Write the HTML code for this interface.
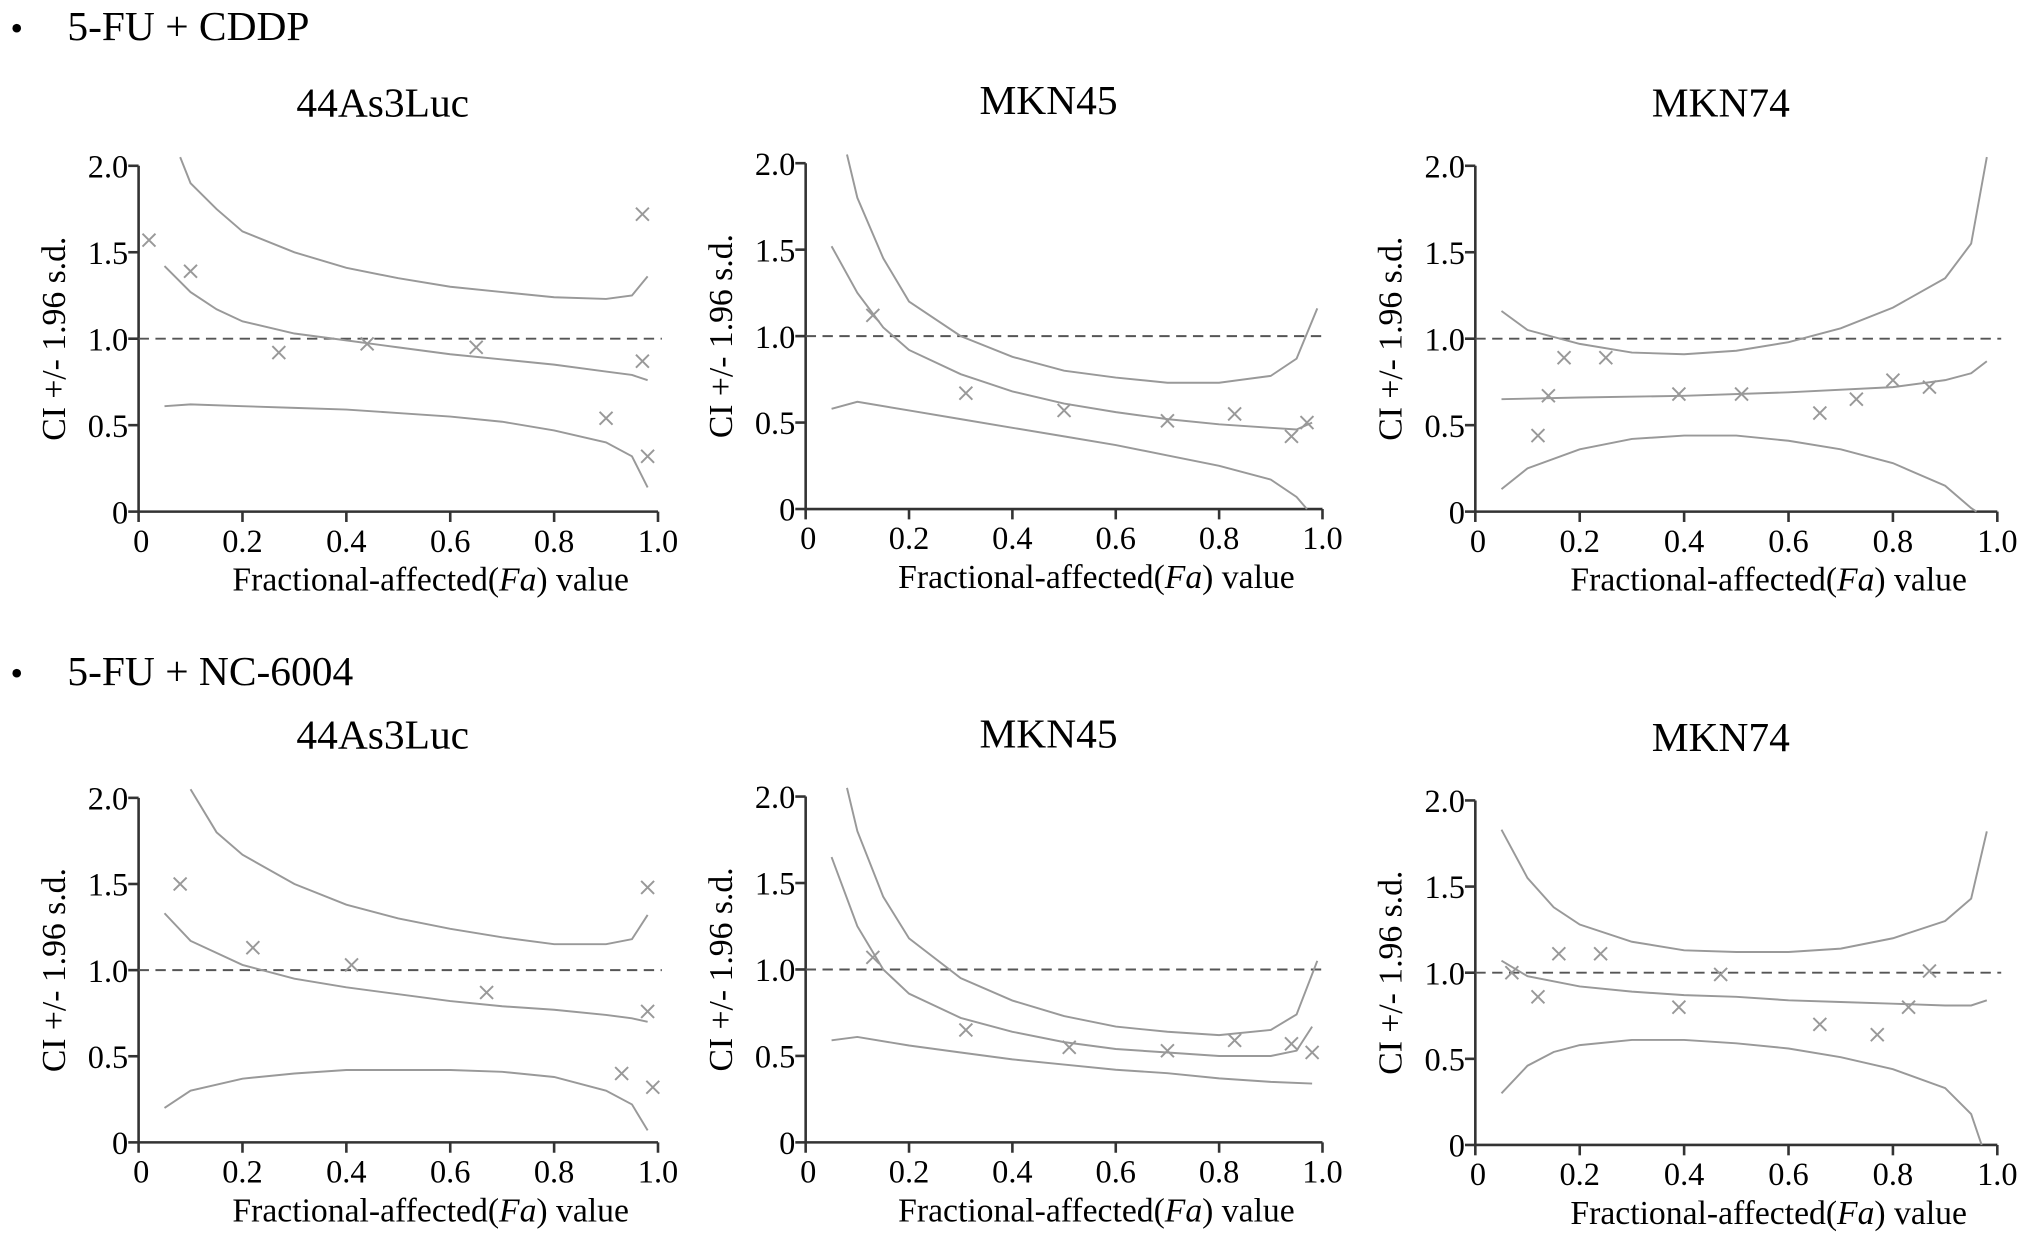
<!DOCTYPE html>
<html><head><meta charset="utf-8"><style>
html,body{margin:0;padding:0;background:#fff;}
svg{display:block;font-family:"Liberation Serif",serif;}
</style></head><body>
<svg id="fig" width="2031" height="1246" viewBox="0 0 1568 962" preserveAspectRatio="none">
<text x="8" y="31" font-size="28">•</text>
<text x="52" y="31" font-size="32">5-FU + CDDP</text>
<text x="8" y="529" font-size="28">•</text>
<text x="52" y="529" font-size="32">5-FU + NC-6004</text>
</svg>
<script>
const xTicks=[0,0.2,0.4,0.6,0.8,1.0];
const xTickLabels=["0","0.2","0.4","0.6","0.8","1.0"];
const yTicks=[0,0.5,1.0,1.5,2.0];
const yTickLabels=["0","0.5","1.0","1.5","2.0"];
const panelTitles=["44As3Luc","MKN45","MKN74","44As3Luc","MKN45","MKN74"];
// upper CI, mid CI, lower CI curves: [fa, ci]
const upper1=[[0.08,2.05],[0.1,1.9],[0.15,1.75],[0.2,1.62],[0.3,1.5],[0.4,1.41],[0.5,1.35],[0.6,1.3],[0.7,1.27],[0.8,1.24],[0.9,1.23],[0.95,1.25],[0.98,1.36]];
const mid1=[[0.05,1.42],[0.1,1.27],[0.15,1.17],[0.2,1.1],[0.3,1.03],[0.4,0.99],[0.5,0.95],[0.6,0.91],[0.7,0.88],[0.8,0.85],[0.9,0.81],[0.95,0.79],[0.98,0.76]];
const lower1=[[0.05,0.61],[0.1,0.62],[0.2,0.61],[0.3,0.6],[0.4,0.59],[0.5,0.57],[0.6,0.55],[0.7,0.52],[0.8,0.47],[0.9,0.4],[0.95,0.32],[0.98,0.14]];
const points1=[[0.02,1.57],[0.1,1.39],[0.27,0.92],[0.44,0.97],[0.65,0.95],[0.9,0.54],[0.97,1.72],[0.97,0.87],[0.98,0.32]];
const upper2=[[0.08,2.05],[0.1,1.8],[0.15,1.45],[0.2,1.2],[0.3,1.0],[0.4,0.88],[0.5,0.8],[0.6,0.76],[0.7,0.73],[0.8,0.73],[0.9,0.77],[0.95,0.87],[0.99,1.16]];
const mid2=[[0.05,1.52],[0.1,1.25],[0.15,1.05],[0.2,0.92],[0.3,0.78],[0.4,0.68],[0.5,0.61],[0.6,0.56],[0.7,0.52],[0.8,0.49],[0.9,0.47],[0.95,0.46],[0.98,0.5]];
const lower2=[[0.05,0.58],[0.1,0.62],[0.2,0.57],[0.3,0.52],[0.4,0.47],[0.5,0.42],[0.6,0.37],[0.7,0.31],[0.8,0.25],[0.9,0.17],[0.95,0.07],[0.97,0.0]];
const points2=[[0.13,1.12],[0.31,0.67],[0.5,0.57],[0.7,0.51],[0.83,0.55],[0.94,0.42],[0.97,0.5]];
const upper3=[[0.05,1.16],[0.1,1.05],[0.2,0.97],[0.3,0.92],[0.4,0.91],[0.5,0.93],[0.6,0.98],[0.7,1.06],[0.8,1.18],[0.9,1.35],[0.95,1.55],[0.98,2.05]];
const mid3=[[0.05,0.65],[0.2,0.66],[0.4,0.67],[0.6,0.69],[0.8,0.72],[0.9,0.76],[0.95,0.8],[0.98,0.87]];
const lower3=[[0.05,0.13],[0.1,0.25],[0.2,0.36],[0.3,0.42],[0.4,0.44],[0.5,0.44],[0.6,0.41],[0.7,0.36],[0.8,0.28],[0.9,0.15],[0.95,0.02],[0.96,0.0]];
const points3=[[0.12,0.44],[0.14,0.67],[0.17,0.89],[0.25,0.89],[0.39,0.68],[0.51,0.68],[0.66,0.57],[0.73,0.65],[0.8,0.76],[0.87,0.72]];
const upper4=[[0.1,2.05],[0.15,1.8],[0.2,1.67],[0.3,1.5],[0.4,1.38],[0.5,1.3],[0.6,1.24],[0.7,1.19],[0.8,1.15],[0.9,1.15],[0.95,1.18],[0.98,1.32]];
const mid4=[[0.05,1.33],[0.1,1.17],[0.2,1.03],[0.3,0.95],[0.4,0.9],[0.5,0.86],[0.6,0.82],[0.7,0.79],[0.8,0.77],[0.9,0.74],[0.95,0.72],[0.98,0.7]];
const lower4=[[0.05,0.2],[0.1,0.3],[0.2,0.37],[0.3,0.4],[0.4,0.42],[0.5,0.42],[0.6,0.42],[0.7,0.41],[0.8,0.38],[0.9,0.3],[0.95,0.22],[0.98,0.07]];
const points4=[[0.08,1.5],[0.22,1.13],[0.41,1.03],[0.67,0.87],[0.93,0.4],[0.98,1.48],[0.98,0.76],[0.99,0.32]];
const upper5=[[0.08,2.05],[0.1,1.8],[0.15,1.42],[0.2,1.18],[0.3,0.95],[0.4,0.82],[0.5,0.73],[0.6,0.67],[0.7,0.64],[0.8,0.62],[0.9,0.65],[0.95,0.74],[0.99,1.05]];
const mid5=[[0.05,1.65],[0.1,1.25],[0.15,1.0],[0.2,0.86],[0.3,0.72],[0.4,0.64],[0.5,0.58],[0.6,0.54],[0.7,0.52],[0.8,0.5],[0.9,0.5],[0.95,0.53],[0.98,0.67]];
const lower5=[[0.05,0.59],[0.1,0.61],[0.2,0.56],[0.3,0.52],[0.4,0.48],[0.5,0.45],[0.6,0.42],[0.7,0.4],[0.8,0.37],[0.9,0.35],[0.98,0.34]];
const points5=[[0.13,1.07],[0.31,0.65],[0.51,0.55],[0.7,0.53],[0.83,0.59],[0.94,0.57],[0.98,0.52]];
const upper6=[[0.05,1.83],[0.1,1.55],[0.15,1.38],[0.2,1.28],[0.3,1.18],[0.4,1.13],[0.5,1.12],[0.6,1.12],[0.7,1.14],[0.8,1.2],[0.9,1.3],[0.95,1.43],[0.98,1.82]];
const mid6=[[0.05,1.07],[0.1,0.98],[0.2,0.92],[0.3,0.89],[0.4,0.87],[0.5,0.86],[0.6,0.84],[0.7,0.83],[0.8,0.82],[0.9,0.81],[0.95,0.81],[0.98,0.84]];
const lower6=[[0.05,0.3],[0.1,0.46],[0.15,0.54],[0.2,0.58],[0.3,0.61],[0.4,0.61],[0.5,0.59],[0.6,0.56],[0.7,0.51],[0.8,0.44],[0.9,0.33],[0.95,0.18],[0.97,0.0]];
const points6=[[0.07,1.0],[0.12,0.86],[0.16,1.11],[0.24,1.11],[0.39,0.8],[0.47,0.99],[0.66,0.7],[0.77,0.64],[0.83,0.8],[0.87,1.01]];

const data=[[upper1,mid1,lower1,points1],[upper2,mid2,lower2,points2],[upper3,mid3,lower3,points3],
[upper4,mid4,lower4,points4],[upper5,mid5,lower5,points5],[upper6,mid6,lower6,points6]];
const frames=[[107,508,128,395],[622,1021,126,393],[1139,1542,128,395],[107,508,616,882],[622,1021,615,882],[1139,1542,618,884]];
const NS="http://www.w3.org/2000/svg";
const svg=document.getElementById('fig');
function mk(tag,attrs,parent){const e=document.createElementNS(NS,tag);for(const k in attrs)e.setAttribute(k,attrs[k]);parent.appendChild(e);return e;}
frames.forEach((f,i)=>{
  const [x0,x1,y2,y0]=f;
  const sx=v=>x0+v*(x1-x0);
  const sy=v=>y0-v/2*(y0-y2);
  const g=mk('g',{},svg);
  
  
  const t=mk('text',{x:(x0+x1)/2-12,y:y2-38,'font-size':32,'text-anchor':'middle'},g);
  t.textContent=panelTitles[i];
  
  
  const ax=mk('path',{d:`M${x0},${y2} V${y0} H${x1}`,stroke:'#333',fill:'none','stroke-width':2},g);
  
  
  yTicks.forEach((v,j)=>{
    mk('line',{x1:x0-8,x2:x0,y1:sy(v),y2:sy(v),stroke:'#333','stroke-width':2},g);
    const l=mk('text',{x:x0-8,y:sy(v)+9,'font-size':25,'text-anchor':'end'},g);
    l.textContent=yTickLabels[j];
    
    
  });
  xTicks.forEach((v,j)=>{
    mk('line',{x1:sx(v),x2:sx(v),y1:y0,y2:y0+8,stroke:'#333','stroke-width':2},g);
    const l=mk('text',{x:sx(v)+(j==0?2:0),y:y0+31,'font-size':25,'text-anchor':'middle'},g);
    l.textContent=xTickLabels[j];
    
    
  });
  const xl=mk('text',{x:(x0+x1)/2+25,y:y0+61,'font-size':26,'text-anchor':'middle'},g);
  xl.innerHTML='Fractional-affected(<tspan font-style="italic">Fa</tspan>)  value';
  
  
  const cy=(y0+y2)/2;
  const yl=mk('text',{x:0,y:0,'font-size':26,'text-anchor':'middle',transform:`translate(${x0-57},${cy}) rotate(-90)`},g);
  yl.textContent='CI +/- 1.96 s.d.';
  
  
  const ref=mk('line',{x1:x0,x2:x1+3,y1:sy(1),y2:sy(1),stroke:'#555','stroke-width':1.5,'stroke-dasharray':'8,5'},g);
  
  
  const names=['upper-ci-curve','ci-curve','lower-ci-curve'];
  for(let k=0;k<3;k++){
    const d=data[i][k].map((p,n)=>(n?'L':'M')+sx(p[0]).toFixed(1)+','+sy(p[1]).toFixed(1)).join(' ');
    const c=mk('path',{d:d,stroke:'#999',fill:'none','stroke-width':1.5},g);
    
    
  }
  data[i][3].forEach(p=>{
    const px=sx(p[0]),py=sy(p[1]),r=5;
    const m=mk('path',{d:`M${px-r},${py-r} L${px+r},${py+r} M${px-r},${py+r} L${px+r},${py-r}`,stroke:'#999','stroke-width':1.5,fill:'none'},g);
    
    
  });
});
</script>
</body></html>
